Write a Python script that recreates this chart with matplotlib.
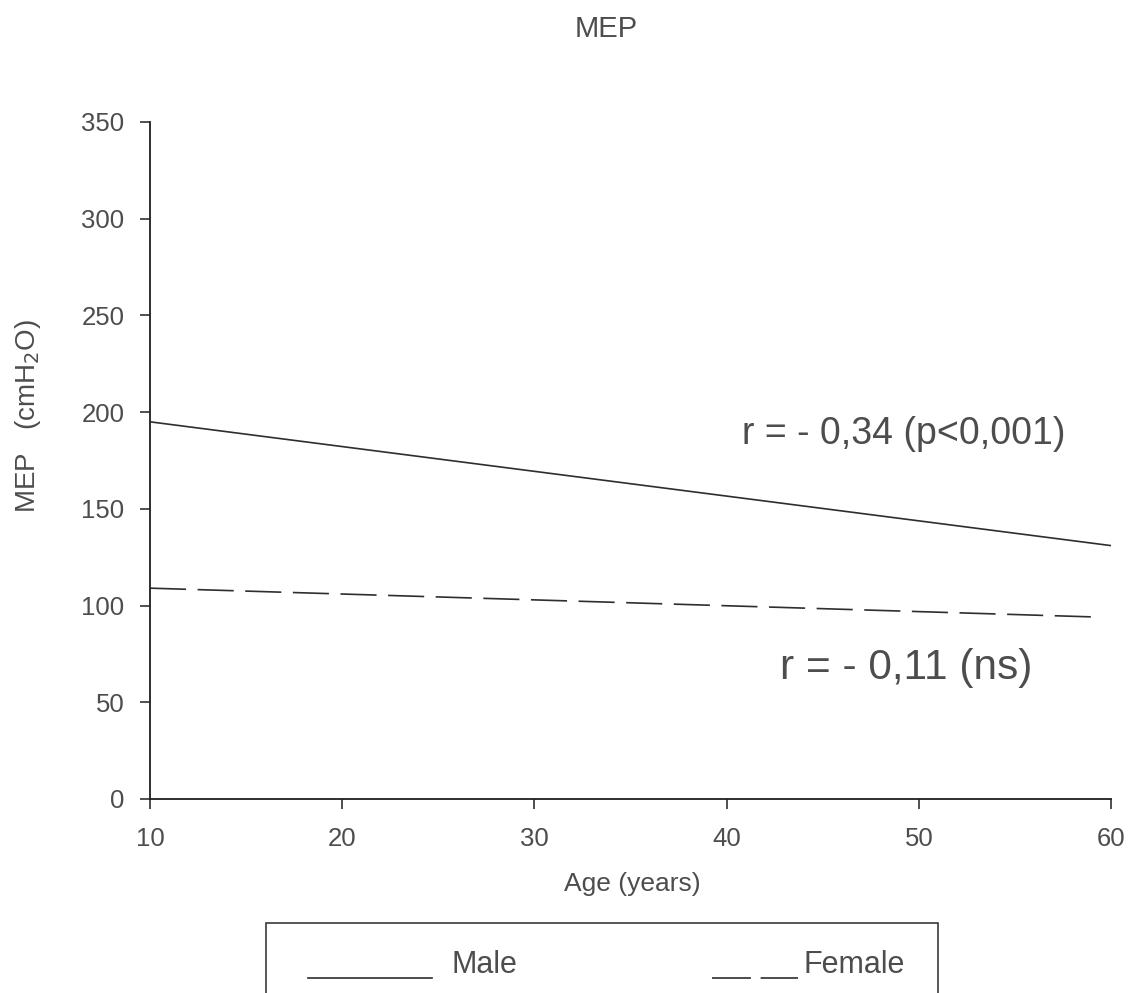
import matplotlib
matplotlib.use("Agg")
import matplotlib.pyplot as plt
from matplotlib.lines import Line2D
from matplotlib.patches import Rectangle

# Regression lines of MEP against age
male_age = [10, 60]
male_mep = [195, 131]
female_age = [10, 59.5]
female_mep = [109, 94]

x_ticks = [10, 20, 30, 40, 50, 60]
y_ticks = [0, 50, 100, 150, 200, 250, 300, 350]

male_label = "r = - 0,34 (p<0,001)"
female_label = "r = - 0,11 (ns)"

W, H = 1130, 993
TEXT = "#4d4d4d"
LINE = "#2e2e2e"
FONT = "Liberation Sans"

plt.rcParams["font.family"] = [FONT, "DejaVu Sans"]
plt.rcParams["lines.scale_dashes"] = False


def fx(px):
    return px / W


def fy(py):
    return 1 - py / H


fig = plt.figure(figsize=(W / 100, H / 100), dpi=100)
ax = fig.add_axes([fx(150), fy(799), fx(1111) - fx(150), fy(122) - fy(799)])

ax.plot(male_age, male_mep, color=LINE, lw=1.2, solid_capstyle="butt")
ax.plot(female_age, female_mep, color=LINE, lw=1.2, dashes=(26, 8.3))

ax.set_xlim(10, 60)
ax.set_ylim(0, 350)
ax.set_xticks(x_ticks)
ax.set_yticks(y_ticks)
for side in ("top", "right"):
    ax.spines[side].set_visible(False)
for side in ("left", "bottom"):
    ax.spines[side].set_color("#1f1f1f")
    ax.spines[side].set_linewidth(1.3)
ax.tick_params(axis="both", direction="out", length=7.5, width=1.1,
               color="#1f1f1f", labelcolor=TEXT, labelsize=18.5)
ax.tick_params(axis="x", pad=13)
ax.tick_params(axis="y", pad=11)

# Title and axis labels
fig.text(fx(606), fy(29), "MEP", ha="center", va="center",
         fontsize=21, color=TEXT)
fig.text(fx(632), fy(884), "Age (years)", ha="center", va="center",
         fontsize=19, color=TEXT)
fig.text(fx(28), fy(416), "MEP   (cmH$_2$O)", ha="center", va="center",
         rotation=90, fontsize=20, color=TEXT)

# Correlation annotations
fig.text(fx(904), fy(434), male_label, ha="center", va="center",
         fontsize=27, color=TEXT)
fig.text(fx(906), fy(668), female_label, ha="center", va="center",
         fontsize=30.5, color=TEXT)

# Legend box below the axes
fig.patches.append(Rectangle((fx(266), fy(1010)), fx(938) - fx(266),
                             fy(923) - fy(1010), transform=fig.transFigure,
                             fill=False, edgecolor="#3a3a3a", lw=1.2))
fig.lines.append(Line2D([fx(308), fx(432)], [fy(978), fy(978)],
                        transform=fig.transFigure, color=LINE, lw=1.2))
fig.text(fx(451), fy(973), "Male", ha="left", va="baseline",
         fontsize=22, color=TEXT)
fig.lines.append(Line2D([fx(712), fx(798)], [fy(978), fy(978)],
                        transform=fig.transFigure, color=LINE, lw=1.2,
                        dashes=(28, 7)))
fig.text(fx(905), fy(973), "Female", ha="right", va="baseline",
         fontsize=22, color=TEXT)

fig.savefig("out.png", dpi=100)
